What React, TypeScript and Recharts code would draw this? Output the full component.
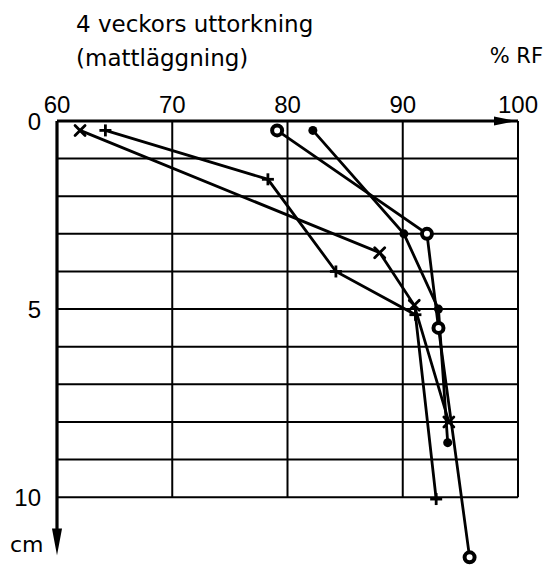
import React from "react";
import {
  ScatterChart,
  Scatter,
  XAxis,
  YAxis,
  ReferenceLine,
  ReferenceDot,
} from "recharts";

// axis ticks
const rfTicks = [60, 70, 80, 90, 100];
const depthTicks = [0, 5, 10];
const depthGrid = [1, 2, 3, 4, 5, 6, 7, 8, 9, 10];
const rfGrid = [70, 80, 90, 100];

// series (% RF, depth in cm)
const crossRF = [62, 88, 91, 94];
const crossDepth = [0.25, 3.5, 4.9, 8.0];
const plusRF = [64.2, 78.3, 84.2, 91.1, 92.9];
const plusDepth = [0.25, 1.55, 4.0, 5.15, 10.05];
const ringRF = [79.1, 92.1, 93.1, 95.8];
const ringDepth = [0.25, 3.0, 5.5, 11.6];
const dotRF = [82.2, 90.1, 93.1, 93.9];
const dotDepth = [0.25, 3.0, 5.0, 8.55];

const zip = (rf: number[], depth: number[]) =>
  rf.map((v, i) => ({ rf: v, depth: depth[i] }));

const crossData = zip(crossRF, crossDepth);
const plusData = zip(plusRF, plusDepth);
const ringData = zip(ringRF, ringDepth);
const dotData = zip(dotRF, dotDepth);

const INK = "#000";
const lineStyle = { stroke: INK, strokeWidth: 2.8 };

function CrossMark({ cx, cy }: any) {
  const s = 5;
  return (
    <g stroke={INK} strokeWidth={2.8} strokeLinecap="round">
      <line x1={cx - s} y1={cy - s} x2={cx + s} y2={cy + s} />
      <line x1={cx - s} y1={cy + s} x2={cx + s} y2={cy - s} />
    </g>
  );
}

function PlusMark({ cx, cy }: any) {
  const s = 6;
  return (
    <g stroke={INK} strokeWidth={2.8}>
      <line x1={cx - s} y1={cy} x2={cx + s} y2={cy} />
      <line x1={cx} y1={cy - s} x2={cx} y2={cy + s} />
    </g>
  );
}

function RingMark({ cx, cy }: any) {
  return <circle cx={cx} cy={cy} r={5} fill="#fff" stroke={INK} strokeWidth={4} />;
}

function DotMark({ cx, cy }: any) {
  return <circle cx={cx} cy={cy} r={4.5} fill={INK} />;
}

function RightArrow({ cx, cy }: any) {
  return <path d={`M${cx - 2},${cy} L${cx - 24},${cy - 4.5} L${cx - 24},${cy + 4.5} Z`} fill={INK} />;
}

function DownArrow({ cx, cy }: any) {
  return <path d={`M${cx},${cy} L${cx - 5},${cy - 27} L${cx + 5},${cy - 27} Z`} fill={INK} />;
}

const tickFont = { fill: INK, fontSize: 24, fontFamily: "Liberation Sans, Arial, sans-serif" };
const textFont = "DejaVu Sans, sans-serif";

export default function App() {
  return (
    <div
      style={{
        position: "absolute",
        left: 0,
        top: 0,
        width: 551,
        height: 565,
        overflow: "hidden",
        background: "#fff",
      }}
    >
      <ScatterChart
        width={551}
        height={565}
        margin={{ top: 0, right: 33, bottom: 2, left: 0 }}
      >
        <XAxis
          type="number"
          dataKey="rf"
          orientation="top"
          domain={[60, 100]}
          ticks={rfTicks}
          interval={0}
          height={121}
          axisLine={false}
          tickLine={false}
          tick={tickFont}
        />
        <YAxis
          type="number"
          dataKey="depth"
          domain={[0, 11.75]}
          reversed
          ticks={depthTicks}
          interval={0}
          width={57}
          tickMargin={10}
          axisLine={false}
          tickLine={false}
          tick={tickFont}
        />

        {/* grid */}
        {depthGrid.map((d) => (
          <ReferenceLine key={`h${d}`} y={d} stroke={INK} strokeWidth={2} />
        ))}
        {rfGrid.map((r) => (
          <ReferenceLine
            key={`v${r}`}
            segment={[
              { x: r, y: 0 },
              { x: r, y: 10 },
            ]}
            stroke={INK}
            strokeWidth={2}
          />
        ))}

        {/* axes with arrows */}
        <ReferenceLine y={0} stroke={INK} strokeWidth={2.8} />
        <ReferenceLine
          segment={[
            { x: 60, y: 0 },
            { x: 60, y: 11.0 },
          ]}
          stroke={INK}
          strokeWidth={3.2}
        />
        <ReferenceDot x={100} y={0} shape={<RightArrow />} />
        <ReferenceDot x={60} y={11.55} shape={<DownArrow />} />

        <Scatter data={crossData} line={lineStyle} shape={<CrossMark />} isAnimationActive={false} />
        <Scatter data={plusData} line={lineStyle} shape={<PlusMark />} isAnimationActive={false} />
        <Scatter data={dotData} line={lineStyle} shape={<DotMark />} isAnimationActive={false} />
        <Scatter data={ringData} line={lineStyle} shape={<RingMark />} isAnimationActive={false} />
      </ScatterChart>

      <svg
        width={551}
        height={565}
        style={{ position: "absolute", left: 0, top: 0, pointerEvents: "none" }}
      >
        <text x={76} y={32} fontFamily={textFont} fontSize={23} fill={INK}>
          4 veckors uttorkning
        </text>
        <text x={76} y={66} fontFamily={textFont} fontSize={23} fill={INK}>
          (mattläggning)
        </text>
        <text x={543} y={63} textAnchor="end" fontFamily={textFont} fontSize={21} fill={INK}>
          % RF
        </text>
        <text x={10} y={552} fontFamily={textFont} fontSize={22} fill={INK}>
          cm
        </text>
      </svg>
    </div>
  );
}
